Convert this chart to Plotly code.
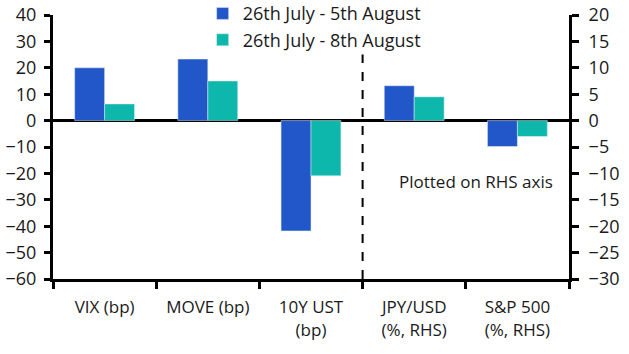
import plotly.graph_objects as go

categories = ["VIX (bp)", "MOVE (bp)", "10Y UST<br>(bp)", "JPY/USD<br>(%, RHS)", "S&P 500<br>(%, RHS)"]
series_names = ["26th July - 5th August", "26th July - 8th August"]
lhs_cats = categories[:3]
rhs_cats = categories[3:]
s1_lhs = [20, 23.3, -41.8]
s2_lhs = [6.3, 15.0, -20.9]
s1_rhs = [6.6, -4.9]
s2_rhs = [4.5, -3.0]
left_ticks = [40, 30, 20, 10, 0, -10, -20, -30, -40, -50, -60]
right_ticks = [20, 15, 10, 5, 0, -5, -10, -15, -20, -25, -30]

BLUE = "#2157C9"
TEAL = "#0DB7AB"
FONT = "Open Sans"
FS = 18
W = 0.29

fig = go.Figure()
fig.add_trace(go.Bar(x=lhs_cats, y=s1_lhs, name=series_names[0], marker_color=BLUE,
                     width=W, offset=-W, legendgroup="a", yaxis="y"))
fig.add_trace(go.Bar(x=lhs_cats, y=s2_lhs, name=series_names[1], marker_color=TEAL,
                     width=W, offset=0, legendgroup="b", yaxis="y"))
fig.add_trace(go.Bar(x=rhs_cats, y=s1_rhs, name=series_names[0], marker_color=BLUE,
                     width=W, offset=-W, legendgroup="a", showlegend=False, yaxis="y2"))
fig.add_trace(go.Bar(x=rhs_cats, y=s2_rhs, name=series_names[1], marker_color=TEAL,
                     width=W, offset=0, legendgroup="b", showlegend=False, yaxis="y2"))

fig.add_shape(type="line", xref="x", yref="y", x0=2.5, x1=2.5, y0=-60, y1=25,
              line=dict(color="black", width=2, dash="dash"))
fig.add_annotation(text="Plotted on RHS axis", xref="x", yref="y2", x=3.6, y=-11.5,
                   showarrow=False, font=dict(family=FONT, size=FS-1, color="#1a1a1a"))

fig.update_layout(
    width=629, height=354,
    margin=dict(l=53, r=60, t=15, b=75, autoexpand=False),
    paper_bgcolor="white", plot_bgcolor="white",
    font=dict(family=FONT, size=FS, color="#1a1a1a"),
    barmode="overlay",
    legend=dict(x=0.29, y=1.075, xanchor="left", yanchor="top", bgcolor="rgba(0,0,0,0)",
                font=dict(size=FS), tracegroupgap=0, itemwidth=30),
    xaxis=dict(categoryorder="array", categoryarray=categories, tickson="boundaries",
               ticks="outside", ticklen=7, tickwidth=3, tickcolor="black",
               showline=True, linecolor="black", linewidth=3, showgrid=False,
               range=[-0.5, 4.5], tickfont=dict(size=FS-1), ticklabelstandoff=11),
    yaxis=dict(range=[-60, 40], tickvals=left_ticks, ticks="outside", ticklen=6, tickwidth=3,
               tickcolor="black", showline=True, linecolor="black", linewidth=3,
               showgrid=False, zeroline=True, zerolinecolor="black", zerolinewidth=3,
               tickfont=dict(size=FS), ticklabelstandoff=4),
    yaxis2=dict(range=[-30, 20], tickvals=right_ticks, overlaying="y", side="right",
                ticks="outside", ticklen=7, tickwidth=3, tickcolor="black",
                showline=True, linecolor="black", linewidth=3, showgrid=False,
                zeroline=False, tickfont=dict(size=FS), ticklabelstandoff=6),
    showlegend=True,
)

fig.write_html("out.html")
